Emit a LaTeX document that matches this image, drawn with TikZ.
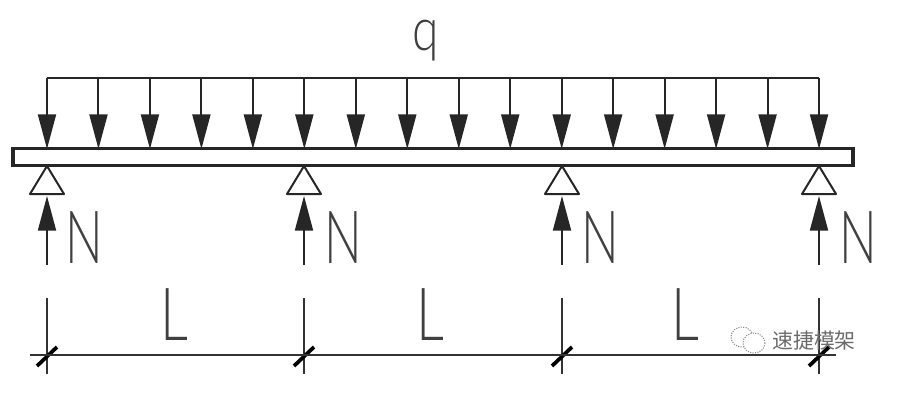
\documentclass[tikz,border=0pt]{standalone}
\usepackage{fontspec}
\usetikzlibrary{arrows.meta, positioning}
\newfontfamily\lblfont[UprightFont=* Light]{Lato}
\newfontfamily\cjk{Noto Sans CJK SC}
\definecolor{wmgray}{gray}{0.42}
\tikzstyle{line}=[black!85,line width=1.5pt]
\tikzstyle{load}=[line,-{Triangle[width=13.5pt,length=26pt,sep=0pt]}]
\tikzstyle{beam}=[draw=black!85,line width=2.5pt,fill=white,minimum width=630pt,minimum height=12.5pt,inner sep=0pt]
\tikzstyle{lbl}=[black!75,inner sep=0pt,font=\lblfont\fontsize{55}{55}\selectfont,anchor=base]
\tikzstyle{sup}=[draw=black!85,line width=1.5pt,fill=white,line join=round]
\tikzstyle{dim}=[black!80,line width=1.3pt]
\tikzstyle{tick}=[black,line width=2.8pt]
\begin{document}
\begin{tikzpicture}[x=.75pt,y=-.75pt]
    \useasboundingbox (0,0) rectangle (915,401);
    \node[beam] (beam) at (433,157) {};
    % uniform load
    \foreach \i in {0,...,15} {
        \coordinate (t\i) at (47+\i*51.47,78);
        \coordinate (h\i) at (47+\i*51.47,149);
        \draw[load] (t\i) -- (h\i);}
    \draw[line] (t0) -- (t15);
    \node[lbl,font=\lblfont\fontsize{45}{45}\selectfont,xscale=.8] (q) at (426,50) {q};
    % supports, reactions and dimension ticks
    \foreach \n/\x/\lx in {a/47/84, b/304/343, c/562/600, d/819/858} {
        \coordinate (\n top) at (\x,166);
        \coordinate (\n l) at (\x-17,194);
        \coordinate (\n r) at (\x+17,194);
        \coordinate (\n s) at (\x,265);
        \coordinate (\n e) at (\x,196);
        \coordinate (\n u) at (\x,298);
        \coordinate (\n v) at (\x,374);
        \coordinate (\n x) at (\x-10,366);
        \coordinate (\n y) at (\x+10,347);
        \draw[sup] (\n top) -- (\n l) -- (\n r) -- cycle;
        \draw[load] (\n s) -- (\n e);
        \node[lbl,xscale=.68] (N\n) at (\lx,263) {N};
        \draw[dim] (\n u) -- (\n v);
        \draw[tick] (\n x) -- (\n y);}
    \coordinate (dl) at (30,355);
    \coordinate (dr) at (836,355);
    \draw[dim] (dl) -- (dr);
    \node[lbl,xscale=.75] (L1) at (174,340) {L};
    \node[lbl,xscale=.75] (L2) at (430,340) {L};
    \node[lbl,xscale=.75] (L3) at (685,340) {L};
    % watermark
    \draw[wmgray!80,line width=.8pt,densely dotted] (742,337) ellipse (11 and 10);
    \draw[wmgray!80,line width=.8pt,densely dotted,fill=white] (754,343) ellipse (11 and 10);
    \node[wmgray,inner sep=0pt,font=\cjk\fontsize{15.7}{16}\selectfont] (wm) at (814,341) {速捷模架};
\end{tikzpicture}
\end{document}
